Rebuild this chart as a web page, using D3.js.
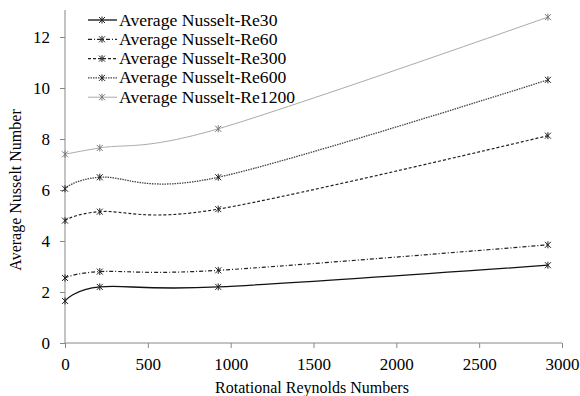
<!DOCTYPE html>
<head>
    <style>
        * { padding: 0; margin: 0; }
        body { background: #fff; }
    </style>
    <script src="https://cdn.jsdelivr.net/npm/d3@7"></script>
</head>
<body>
<script>
    ////////////////////////////////////////////////
    // DATA
    ////////////////////////////////////////////////
    const rotRe = [0, 210, 925, 2915]
    const seriesNames = ["Average Nusselt-Re30", "Average Nusselt-Re60", "Average Nusselt-Re300", "Average Nusselt-Re600", "Average Nusselt-Re1200"]
    const re30 = [1.65, 2.2, 2.2, 3.05]
    const re60 = [2.55, 2.8, 2.85, 3.85]
    const re300 = [4.8, 5.15, 5.25, 8.13]
    const re600 = [6.05, 6.5, 6.5, 10.32]
    const re1200 = [7.4, 7.65, 8.4, 12.78]
    const xTicks = [0, 500, 1000, 1500, 2000, 2500, 3000]
    const yTicks = [0, 2, 4, 6, 8, 10, 12]

    const allSeries = [re30, re60, re300, re600, re1200]
    //line styles per series
    const styles = [
        { stroke: "#111", dash: null, w: 1.3 },
        { stroke: "#222", dash: "4,2,1,2", w: 1.2 },
        { stroke: "#222", dash: "3,2", w: 1.2 },
        { stroke: "#444", dash: "1.5,1", w: 1.3 },
        { stroke: "#aaa", dash: null, w: 1 }
    ]

    const FONT = "'Liberation Serif', 'Times New Roman', Times, 'DejaVu Serif', serif"

    ////////////////////////////////////////////////
    // SETUP
    ////////////////////////////////////////////////
    const width = 580, height = 396
    const svg = d3.select("body").append("svg")
        .attr("width", width).attr("height", height)
        .attr("font-family", FONT)

    const x = d3.scaleLinear().domain([0, 3000]).range([65, 562])
    const y = d3.scaleLinear().domain([0, 12]).range([343, 37])

    //Axes
    const xAxis = svg.append("g").attr("transform", `translate(0,${y(0)})`)
        .call(d3.axisBottom(x).tickValues(xTicks).tickFormat(d3.format("d")).tickSize(5).tickPadding(10))
    const yAxis = svg.append("g").attr("transform", `translate(${x(0)},0)`)
        .call(d3.axisLeft(y).tickValues(yTicks).tickFormat(d3.format("d")).tickSize(5).tickPadding(10))
    yAxis.select(".domain").attr("d", `M0,${y(0)}V10`)
    xAxis.select(".domain").attr("d", `M${x(0)},0H${x(3000)}`)
    svg.selectAll("g").attr("font-family", FONT)
    svg.selectAll(".domain, .tick line").attr("stroke", "#888")
    svg.selectAll(".tick text").attr("font-size", 17).attr("fill", "#000")

    //Axis titles
    svg.append("text").attr("x", 312).attr("y", 393)
        .attr("text-anchor", "middle").attr("font-size", 16)
        .text("Rotational Reynolds Numbers")
    svg.append("text")
        .attr("transform", `translate(21,${(y(0) + 37) / 2}) rotate(-90)`)
        .attr("text-anchor", "middle").attr("font-size", 16)
        .text("Average Nusselt Number")

    ////////////////////////////////////////////////
    // LINES
    ////////////////////////////////////////////////
    const line = d3.line()
        .x((d, i) => x(rotRe[i]))
        .y(d => y(d))
        .curve(d3.curveCatmullRom.alpha(0))

    const star = "M-3,-3L3,3M-3,3L3,-3M0,-3.5V3.5"

    allSeries.forEach((s, k) => {
        const st = styles[k]
        svg.append("path").datum(s)
            .attr("d", line)
            .attr("fill", "none")
            .attr("stroke", st.stroke)
            .attr("stroke-width", st.w)
            .attr("stroke-dasharray", st.dash)
        svg.selectAll(null).data(s).enter().append("path")
            .attr("d", star)
            .attr("transform", (d, i) => `translate(${x(rotRe[i])},${y(d)})`)
            .attr("stroke", k === 4 ? "#777" : "#222")
            .attr("stroke-width", 1)
    })

    ////////////////////////////////////////////////
    // LEGEND
    ////////////////////////////////////////////////
    const legend = svg.append("g")
    seriesNames.forEach((name, k) => {
        const ly = 20 + k * 19.3
        const st = styles[k]
        legend.append("line")
            .attr("x1", 88).attr("x2", 117).attr("y1", ly).attr("y2", ly)
            .attr("stroke", st.stroke).attr("stroke-width", st.w)
            .attr("stroke-dasharray", st.dash)
        legend.append("path").attr("d", star)
            .attr("transform", `translate(102,${ly})`)
            .attr("stroke", k === 4 ? "#777" : "#222")
        legend.append("text").attr("x", 119).attr("y", ly + 5.5)
            .attr("font-size", 17.6).text(name)
    })
</script>
</body>
